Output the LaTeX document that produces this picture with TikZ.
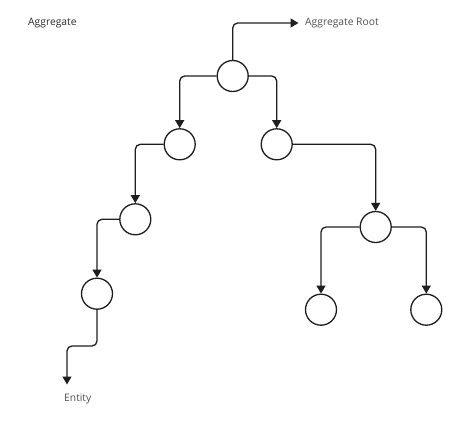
\documentclass[tikz,border=0pt]{standalone}
\usepackage{fontspec}
\setmainfont{Open Sans}
\usetikzlibrary{arrows.meta}
\definecolor{ink}{HTML}{1E1E1E}
\definecolor{darktext}{HTML}{2A2A2A}
\definecolor{greytext}{HTML}{505050}
\tikzset{
  ent/.style={circle, draw=ink, line width=1.3pt, minimum size=31pt, inner sep=0pt},
  conn/.style={draw=ink, line width=1.3pt, rounded corners=5pt, -{Triangle[width=9pt,length=8pt]}},
  lbl/.style={anchor=west, inner sep=0pt, font=\fontsize{10.3}{12}\selectfont},
}
\begin{document}
\begin{tikzpicture}[x=1pt,y=-1pt]
\useasboundingbox (0,0) rectangle (466,436);
\node[ent] (root) at (232.7,76) {};
\node[ent] (c1) at (179.7,144.3) {};
\node[ent] (c2) at (276.7,144.3) {};
\node[ent] (c3) at (135.3,219.3) {};
\node[ent] (c4) at (97,293.7) {};
\node[ent] (c5) at (375.7,227) {};
\node[ent] (c6) at (321,309.7) {};
\node[ent] (c7) at (426.3,309.7) {};
\node[lbl, text=darktext] (agg) at (28,23) {Aggregate};
\node[lbl, text=greytext] (aggroot) at (305,23) {Aggregate Root};
\node[lbl, text=greytext] (entity) at (64,398.5) {Entity};
\coordinate (rootend) at (298.5,23);
\coordinate (entend) at (67,384.5);
\coordinate (bend) at (82,346);
\draw[conn] (root.north) |- (rootend);
\draw[conn] (root.west) -| (c1.north);
\draw[conn] (root.east) -| (c2.north);
\draw[conn] (c1.west) -| (c3.north);
\draw[conn] (c3.west) -| (c4.north);
\draw[conn] (c4.south) |- (bend) -| (entend);
\draw[conn] (c2.east) -| (c5.north);
\draw[conn] (c5.west) -| (c6.north);
\draw[conn] (c5.east) -| (c7.north);
\end{tikzpicture}
\end{document}
